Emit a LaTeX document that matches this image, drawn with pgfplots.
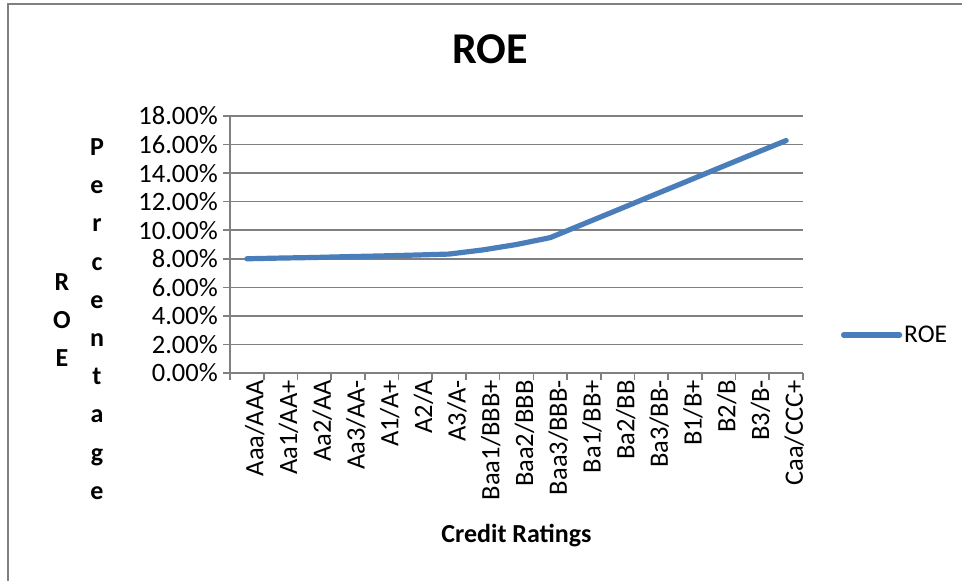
\documentclass[border=0pt]{standalone}
\usepackage{pgfplots}
\pgfplotsset{compat=1.18}
\usepackage{fontspec}
\setmainfont{Carlito}
\definecolor{roeblue}{RGB}{74,126,187}
\definecolor{axgray}{RGB}{128,128,128}
\pgfplotstableread{
x y
0 8.00
1 8.05
2 8.09
3 8.15
4 8.20
5 8.26
6 8.33
7 8.62
8 9.00
9 9.48
10 10.45
11 11.42
12 12.40
13 13.37
14 14.35
15 15.32
16 16.28
}\roedata
\begin{document}
\begin{tikzpicture}[x=1pt,y=1pt]
\path[use as bounding box] (0,0) rectangle (962,581);
\draw[color=axgray, line width=2pt] (8,0) -- (8,576.5) -- (962,576.5);
\begin{axis}[
  at={(230pt,208pt)}, anchor=south west,
  width=573pt, height=257pt, scale only axis,
  xmin=-0.5, xmax=16.5, ymin=0, ymax=18,
  axis x line*=bottom, axis y line*=left,
  axis line style={axgray, line width=1.6pt, -},
  xtick={-0.5,0.5,...,16.5},
  x tick label as interval,
  xticklabels={Aaa/AAA,Aa1/AA+,Aa2/AA,Aa3/AA-,A1/A+,A2/A,A3/A-,Baa1/BBB+,Baa2/BBB,Baa3/BBB-,Ba1/BB+,Ba2/BB,Ba3/BB-,B1/B+,B2/B,B3/B-,Caa/CCC+},
  ytick={0,2,...,18},
  tick align=outside, major tick length=7pt,
  tick style={axgray, line width=1.6pt},
  ymajorgrids, major grid style={axgray, line width=1.6pt},
  /pgf/number format/assume math mode=true,
  yticklabel={\pgfmathprintnumber[fixed,fixed zerofill,precision=2]{\tick}\%},
  ticklabel style={font=\fontsize{26.5}{31}\selectfont, text=black},
  yticklabel style={inner sep=0pt, anchor=east, xshift=-5pt},
  xticklabel style={rotate=90, anchor=east, inner sep=0pt, yshift=-8pt},
  title={ROE},
  title style={at={(axis description cs:0.4538,1.1817)}, anchor=base, font=\fontsize{44}{50}\selectfont\bfseries},
  xlabel={Credit Ratings},
  xlabel style={at={(axis description cs:0.5,-0.6576)}, anchor=base, font=\fontsize{26}{31}\selectfont\bfseries},
  legend style={at={(1.066,0.148)}, anchor=west, draw=none, fill=none, inner sep=0pt,
    font=\fontsize{25.5}{30}\selectfont, nodes={inner sep=2pt}},
  legend image code/.code={\draw[#1] (0pt,0pt) -- (56pt,0pt);},
  clip=false,
]
\addplot[roeblue, line width=5.2pt, line cap=round, line join=round] table[x=x,y=y] {\roedata};
\addlegendentry{ROE}
\end{axis}
\begin{scope}[every node/.style={font=\fontsize{26}{31}\selectfont\bfseries, anchor=base, inner sep=0pt}]
\node at (62,290.5) {R};
\node at (62,252.5) {O};
\node at (62,214.5) {E};
\node at (97,425.5) {P};
\node at (97,387.3) {e};
\node at (97,349.1) {r};
\node at (97,310.9) {c};
\node at (97,272.7) {e};
\node at (97,234.5) {n};
\node at (97,196.3) {t};
\node at (97,158.1) {a};
\node at (97,119.9) {g};
\node at (97,81.7) {e};
\end{scope}
\end{tikzpicture}
\end{document}
